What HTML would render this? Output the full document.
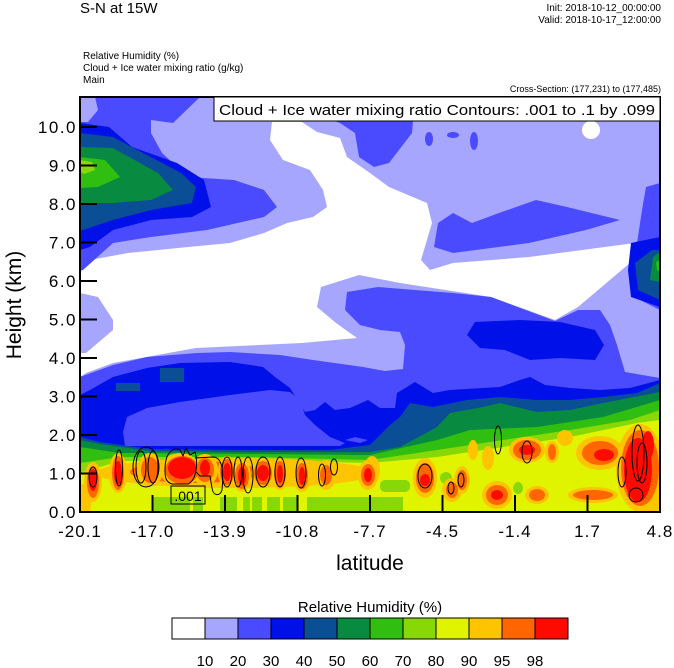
<!DOCTYPE html>
<html><head><meta charset="utf-8"><style>
html,body{margin:0;padding:0;background:#fff;}
svg{display:block;font-family:"Liberation Sans",sans-serif;}
</style></head><body>
<svg width="674" height="668" viewBox="0 0 674 668" xmlns="http://www.w3.org/2000/svg">
<defs><clipPath id="pc"><rect x="80" y="97" width="580" height="415"/></clipPath></defs>
<text x="80" y="13" font-size="15">S-N at 15W</text>
<text x="661" y="11" font-size="10" text-anchor="end">Init: 2018-10-12_00:00:00</text>
<text x="661" y="23" font-size="10" text-anchor="end">Valid: 2018-10-17_12:00:00</text>
<text x="83" y="59" font-size="10">Relative Humidity   (%)</text>
<text x="83" y="71" font-size="10">Cloud + Ice water mixing ratio   (g/kg)</text>
<text x="83" y="83" font-size="10">Main</text>
<text x="661" y="92" font-size="9" text-anchor="end">Cross-Section: (177,231) to (177,485)</text>

<g clip-path="url(#pc)">
<rect x="80" y="97" width="580" height="415" fill="#a6a6ff"/>
<polygon fill="#fff" points="80,273 90,260 128,253 188,247 230,243 264,233 287,223 313,217 327,207 323,190 310,170 283,160 270,140 272,122 302,122 317,132 340,138 347,157 370,173 389,187 427,203 432,223 421,260 430,270 453,263 529,257 635,243 637,257 578,307 555,320 491,297 400,283 359,275 321,287 317,307 336,323 357,338 302,343 196,348 113,363 86,373 80,377"/>
<polygon fill="#a6a6ff" points="80,293 98,297 113,320 113,330 86,353 80,353"/>
<ellipse cx="591" cy="130" rx="9" ry="9" fill="#fff"/>
<polygon fill="#4a4aff" points="80,97 200,97 173,123 151,120 151,133 162,153 188,177 234,180 264,190 277,207 264,217 207,230 151,237 113,243 83,270 80,270"/>
<polygon fill="#a6a6ff" points="80,97 95,97 98,110 88,122 80,122"/>
<polygon fill="#0010e8" points="80,123 109,127 132,147 177,163 204,180 211,207 192,217 151,220 113,230 90,247 80,250"/>
<polygon fill="#0a4e96" points="80,133 113,137 143,153 181,173 196,187 192,203 151,210 113,220 83,230 80,230"/>
<polygon fill="#088a40" points="80,147 113,148 158,173 173,190 151,200 113,203 80,203"/>
<polygon fill="#30be10" points="80,157 105,160 120,177 98,187 80,188"/>
<polygon fill="#88d808" points="80,160 92,162 95,170 84,174 80,172"/>
<polygon fill="#4a4aff" points="302,97 415,97 412,133 389,163 374,167 359,157 355,133 340,123 310,112"/>
<ellipse cx="429" cy="139" rx="4" ry="7" fill="#4a4aff"/>
<ellipse cx="453" cy="135" rx="6" ry="3" fill="#4a4aff"/>
<ellipse cx="474" cy="141" rx="4" ry="9" fill="#4a4aff"/>
<polygon fill="#4a4aff" points="434,247 438,223 453,213 472,223 499,213 536,200 567,207 620,220 586,230 529,243 453,253"/>
<polygon fill="#4a4aff" points="646,187 660,183 660,310 640,300 632,280 636,250 642,210"/>
<polygon fill="#0010e8" points="631,243 660,237 660,307 631,297 628,270"/>
<polygon fill="#0a4e96" points="635,263 652,250 660,250 660,300 638,290"/>
<polygon fill="#088a40" points="653,257 660,252 660,282 650,280"/>
<polygon fill="#30be10" points="656,262 660,260 660,272 657,270"/>
<polygon fill="#4a4aff" points="80,377 113,365 147,357 197,353 230,352 280,355 313,360 363,367 385,371 403,369 405,345 400,332 380,330 360,325 345,310 347,292 378,287 415,290 453,293 491,297 555,321 578,310 600,310 610,325 617,345 625,372 660,378 660,512 80,512"/>
<polygon fill="#0010e8" points="80,395 90,390 113,377 147,368 180,363 230,362 263,367 275,377 290,388 305,412 315,410 325,402 335,410 350,408 368,400 380,408 395,408 397,393 415,382 433,393 450,390 483,388 500,387 520,380 530,377 545,385 570,388 600,390 630,388 660,380 660,512 80,512"/>
<polygon fill="#0010e8" points="467,335 475,322 520,320 560,322 595,330 604,345 595,360 560,358 530,360 505,350 480,348"/>
<polygon fill="#4a4aff" points="123,432 127,417 147,408 180,402 230,395 270,390 290,392 300,400 305,415 315,425 330,437 345,443 340,446 125,446"/>
<polygon fill="#4a4aff" points="345,440 355,437 368,440 360,443"/>
<rect x="160" y="368" width="24" height="14" fill="#0a4e96"/>
<rect x="116" y="383" width="24" height="8" fill="#0a4e96"/>
<polygon fill="#0a4e96" points="80,437 100,442 150,449 250,450 330,450 370,445 390,425 400,417 410,403 433,407 467,400 500,397 537,400 570,400 603,397 637,393 660,383 660,512 80,512"/>
<polygon fill="#088a40" points="80,440 100,444 150,451 250,452 330,452 370,452 400,447 437,427 450,413 483,407 500,403 537,412 570,410 603,403 660,392 660,512 80,512"/>
<polygon fill="#30be10" points="80,447 120,453 250,454 370,455 437,440 470,430 537,427 603,417 660,400 660,512 80,512"/>
<polygon fill="#88d808" points="80,463 120,457 250,457 370,460 437,450 503,440 570,430 630,420 660,410 660,512 80,512"/>
<polygon fill="#e0f400" points="80,473 120,461 250,460 370,463 437,457 503,447 570,437 637,423 660,420 660,512 80,512"/>
<g fill="#88d808">
<rect x="153" y="497" width="37" height="15"/><rect x="193" y="497" width="10" height="15"/>
<rect x="220" y="497" width="17" height="15"/><rect x="243" y="497" width="7" height="15"/>
<rect x="252" y="497" width="10" height="15"/><rect x="267" y="497" width="13" height="15"/>
<rect x="283" y="497" width="14" height="15"/><rect x="307" y="497" width="96" height="15"/>
<rect x="380" y="480" width="30" height="12" rx="5"/>
<ellipse cx="446" cy="478" rx="6" ry="6"/><ellipse cx="518" cy="488" rx="5" ry="6"/>
</g>
<g fill="#ffc400">
<polygon points="80,485 95,480 90,512 80,512"/>
<ellipse cx="235" cy="473" rx="140" ry="15"/>
<ellipse cx="372" cy="470" rx="8" ry="14"/>
<ellipse cx="650" cy="503" rx="12" ry="10"/>
<ellipse cx="565" cy="438" rx="8" ry="8"/>
<ellipse cx="473" cy="450" rx="5" ry="10"/>
<ellipse cx="488" cy="458" rx="6" ry="12"/>
</g>
<ellipse cx="195" cy="472" rx="65" ry="11" fill="#ff6600"/>
<g>
<g fill="#ffc400">
<ellipse cx="93" cy="482" rx="9" ry="20"/><ellipse cx="118" cy="473" rx="9" ry="20"/>
<ellipse cx="150" cy="470" rx="13" ry="17"/><ellipse cx="180" cy="470" rx="20" ry="17"/>
<ellipse cx="205" cy="470" rx="13" ry="16"/><ellipse cx="227" cy="472" rx="9" ry="16"/>
<ellipse cx="242" cy="476" rx="9" ry="16"/><ellipse cx="263" cy="473" rx="11" ry="15"/>
<ellipse cx="280" cy="474" rx="9" ry="16"/><ellipse cx="302" cy="476" rx="9" ry="16"/>
<ellipse cx="326" cy="475" rx="10" ry="15"/><ellipse cx="368" cy="475" rx="10" ry="15"/>
<ellipse cx="425" cy="478" rx="12" ry="20"/><ellipse cx="452" cy="490" rx="10" ry="12"/>
<ellipse cx="462" cy="480" rx="8" ry="14"/><ellipse cx="497" cy="495" rx="15" ry="14"/>
<ellipse cx="527" cy="450" rx="18" ry="13"/><ellipse cx="552" cy="452" rx="7" ry="11"/>
<ellipse cx="537" cy="495" rx="12" ry="9"/><ellipse cx="600" cy="453" rx="24" ry="17"/>
<ellipse cx="593" cy="495" rx="25" ry="8"/><ellipse cx="640" cy="468" rx="24" ry="44"/>
</g>
<g fill="#ff6600">
<ellipse cx="93" cy="482" rx="6" ry="16"/><ellipse cx="118" cy="473" rx="6" ry="17"/>
<ellipse cx="150" cy="470" rx="9" ry="13"/><ellipse cx="182" cy="470" rx="17" ry="14"/>
<ellipse cx="205" cy="470" rx="9" ry="12"/><ellipse cx="227" cy="472" rx="7" ry="13"/>
<ellipse cx="242" cy="476" rx="7" ry="13"/><ellipse cx="263" cy="473" rx="9" ry="12"/>
<ellipse cx="280" cy="474" rx="6" ry="13"/><ellipse cx="302" cy="476" rx="6" ry="13"/>
<ellipse cx="326" cy="475" rx="6" ry="10"/><ellipse cx="368" cy="475" rx="7" ry="11"/>
<ellipse cx="425" cy="478" rx="9" ry="15"/><ellipse cx="452" cy="490" rx="6" ry="8"/>
<ellipse cx="462" cy="480" rx="5" ry="10"/><ellipse cx="497" cy="495" rx="11" ry="10"/>
<ellipse cx="527" cy="450" rx="14" ry="10"/><ellipse cx="552" cy="452" rx="4" ry="8"/>
<ellipse cx="537" cy="495" rx="8" ry="6"/><ellipse cx="600" cy="453" rx="18" ry="12"/>
<ellipse cx="593" cy="495" rx="20" ry="5"/><ellipse cx="640" cy="468" rx="19" ry="38"/>
</g>
<g fill="#ff0a00">
<ellipse cx="93" cy="480" rx="4" ry="11"/><ellipse cx="118" cy="473" rx="4" ry="12"/>
<ellipse cx="182" cy="468" rx="14" ry="11"/><ellipse cx="205" cy="468" rx="5" ry="8"/>
<ellipse cx="227" cy="472" rx="4" ry="9"/><ellipse cx="242" cy="476" rx="4" ry="9"/>
<ellipse cx="263" cy="473" rx="6" ry="8"/><ellipse cx="280" cy="474" rx="3" ry="9"/>
<ellipse cx="302" cy="476" rx="3" ry="9"/><ellipse cx="368" cy="475" rx="4" ry="7"/>
<ellipse cx="425" cy="480" rx="5" ry="6"/><ellipse cx="497" cy="495" rx="6" ry="5"/>
<ellipse cx="527" cy="450" rx="8" ry="5"/><ellipse cx="604" cy="455" rx="10" ry="6"/>
<ellipse cx="638" cy="470" rx="14" ry="32"/><ellipse cx="648" cy="445" rx="6" ry="14"/>
</g>
</g>
<g fill="none" stroke="#000" stroke-width="1">
<ellipse cx="93" cy="477" rx="4" ry="10"/>
<ellipse cx="119" cy="468" rx="3.5" ry="18"/>
<ellipse cx="146" cy="467" rx="13" ry="20"/>
<ellipse cx="141" cy="467" rx="5" ry="16"/>
<ellipse cx="153" cy="467" rx="5" ry="16"/>
<path d="M165,470 C165,450 175,447 180,450 L183,456 L186,448 L190,455 L195,452 C198,462 197,480 188,484 L172,484 C166,482 165,478 165,470Z"/>
<path d="M195,458 L213,457 C222,457 224,470 222,490 C220,497 213,496 212,488 L210,476 L200,476 L196,472"/>
<ellipse cx="227" cy="472" rx="5" ry="15"/>
<ellipse cx="238" cy="472" rx="4" ry="15"/>
<ellipse cx="248" cy="475" rx="5" ry="18"/>
<ellipse cx="263" cy="472" rx="7" ry="15"/>
<ellipse cx="280" cy="472" rx="5" ry="15"/>
<ellipse cx="301" cy="473" rx="5" ry="15"/>
<ellipse cx="322" cy="475" rx="3.5" ry="11"/>
<ellipse cx="334" cy="467" rx="3.5" ry="8"/>
<ellipse cx="498" cy="440" rx="3.5" ry="14"/>
<ellipse cx="527" cy="452" rx="5" ry="11"/>
<ellipse cx="425" cy="476" rx="7" ry="12"/>
<ellipse cx="451" cy="488" rx="3" ry="6"/>
<ellipse cx="461" cy="480" rx="3" ry="7"/>
<ellipse cx="622" cy="472" rx="4" ry="15"/>
<ellipse cx="638" cy="453" rx="6" ry="28"/>
<ellipse cx="642" cy="463" rx="5" ry="20"/>
<ellipse cx="636" cy="495" rx="7" ry="7"/>
</g>
<rect x="171" y="486" width="34" height="18" fill="none" stroke="#000" stroke-width="1"/>
<text x="188" y="501" font-size="14" text-anchor="middle">.001</text>
</g>

<g stroke="#000" stroke-width="2">
<line x1="80" y1="473.5" x2="97" y2="473.5"/><line x1="80" y1="435" x2="97" y2="435"/>
<line x1="80" y1="396.5" x2="97" y2="396.5"/><line x1="80" y1="358" x2="97" y2="358"/>
<line x1="80" y1="319.5" x2="97" y2="319.5"/><line x1="80" y1="281" x2="97" y2="281"/>
<line x1="80" y1="242.5" x2="97" y2="242.5"/><line x1="80" y1="204" x2="97" y2="204"/>
<line x1="80" y1="165.5" x2="97" y2="165.5"/><line x1="80" y1="127" x2="97" y2="127"/>
<line x1="152.5" y1="512" x2="152.5" y2="495"/><line x1="225" y1="512" x2="225" y2="495"/>
<line x1="297.5" y1="512" x2="297.5" y2="495"/><line x1="370" y1="512" x2="370" y2="495"/>
<line x1="442.5" y1="512" x2="442.5" y2="495"/><line x1="515" y1="512" x2="515" y2="495"/>
<line x1="587.5" y1="512" x2="587.5" y2="495"/>
</g>
<rect x="80" y="97" width="580" height="415" fill="none" stroke="#000" stroke-width="2"/>
<rect x="214" y="97" width="446" height="24" fill="#fff" stroke="#000" stroke-width="1"/>
<text x="219" y="115" font-size="15" textLength="436" lengthAdjust="spacingAndGlyphs">Cloud + Ice water mixing ratio Contours: .001 to .1 by .099</text>

<g font-size="17" text-anchor="end" letter-spacing="1.5">
<text x="77" y="518">0.0</text><text x="77" y="479.5">1.0</text><text x="77" y="441">2.0</text>
<text x="77" y="402.5">3.0</text><text x="77" y="364">4.0</text><text x="77" y="325.5">5.0</text>
<text x="77" y="287">6.0</text><text x="77" y="248.5">7.0</text><text x="77" y="210">8.0</text>
<text x="77" y="171.5">9.0</text><text x="77" y="133">10.0</text>
</g>
<g font-size="17" text-anchor="middle" letter-spacing="1">
<text x="80" y="537">-20.1</text><text x="152.5" y="537">-17.0</text><text x="225" y="537">-13.9</text>
<text x="297.5" y="537">-10.8</text><text x="370" y="537">-7.7</text><text x="442.5" y="537">-4.5</text>
<text x="515" y="537">-1.4</text><text x="587.5" y="537">1.7</text><text x="660" y="537">4.8</text>
</g>
<text x="370" y="570" font-size="21" text-anchor="middle">latitude</text>
<text transform="translate(21,305) rotate(-90)" font-size="21" text-anchor="middle">Height (km)</text>

<text x="370" y="612" font-size="15" text-anchor="middle">Relative Humidity  (%)</text>
<g stroke="#000" stroke-width="1">
<rect x="172" y="618" width="33" height="21" fill="#fff"/>
<rect x="205" y="618" width="33" height="21" fill="#a6a6ff"/>
<rect x="238" y="618" width="33" height="21" fill="#4a4aff"/>
<rect x="271" y="618" width="33" height="21" fill="#0010e8"/>
<rect x="304" y="618" width="33" height="21" fill="#0a4e96"/>
<rect x="337" y="618" width="33" height="21" fill="#088a40"/>
<rect x="370" y="618" width="33" height="21" fill="#30be10"/>
<rect x="403" y="618" width="33" height="21" fill="#88d808"/>
<rect x="436" y="618" width="33" height="21" fill="#e0f400"/>
<rect x="469" y="618" width="33" height="21" fill="#ffc400"/>
<rect x="502" y="618" width="33" height="21" fill="#ff6600"/>
<rect x="535" y="618" width="33" height="21" fill="#ff0a00"/>
</g>
<g font-size="15" text-anchor="middle">
<text x="205" y="666">10</text><text x="238" y="666">20</text><text x="271" y="666">30</text>
<text x="304" y="666">40</text><text x="337" y="666">50</text><text x="370" y="666">60</text>
<text x="403" y="666">70</text><text x="436" y="666">80</text><text x="469" y="666">90</text>
<text x="502" y="666">95</text><text x="535" y="666">98</text>
</g>
</svg>
</body></html>
